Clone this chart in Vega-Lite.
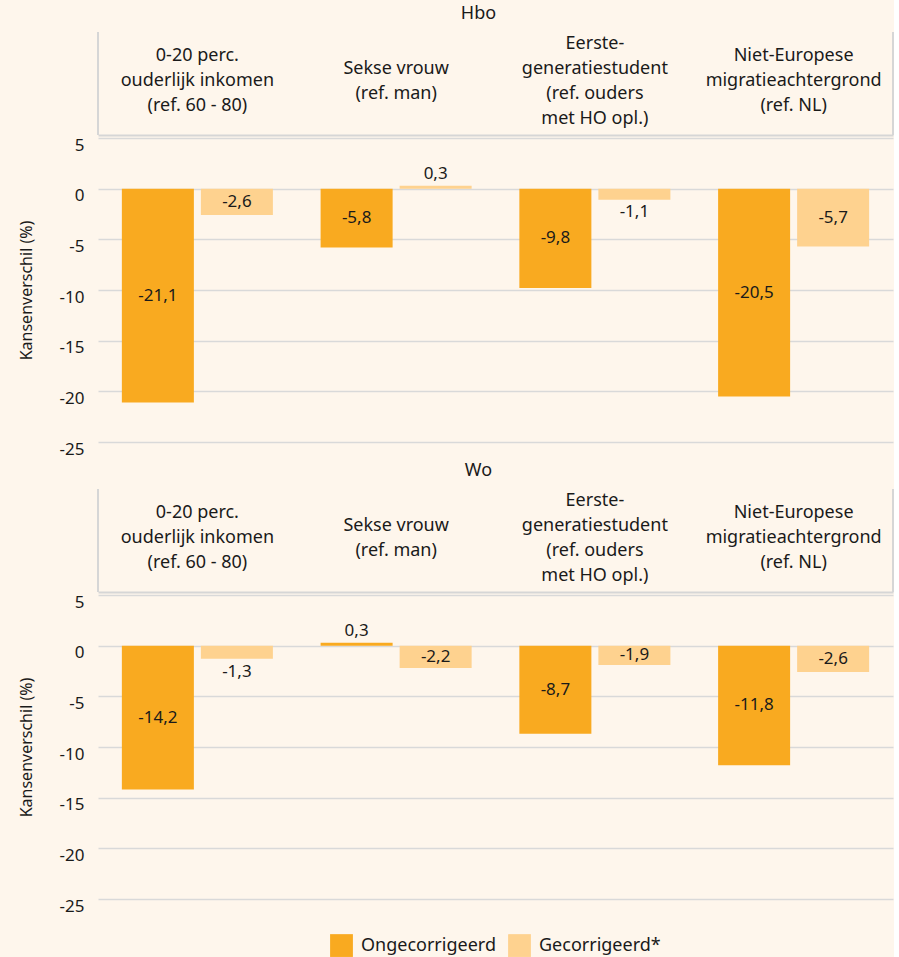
{
  "$schema": "https://vega.github.io/schema/vega-lite/v6.json",
  "background": "#fef6ec",
  "padding": {"left": 18, "top": 5, "right": 0, "bottom": 0},
  "config": {
    "locale": {"number": {"decimal": ",", "thousands": ".", "grouping": [3], "currency": ["€ ", ""], "minus": "-"}},
    "font": "Noto Sans",
    "view": {"stroke": null},
    "concat": {"spacing": 0},
    "text": {"color": "#1a1a1a"},
    "axis": {"labelColor": "#1a1a1a", "titleColor": "#1a1a1a"},
    "legend": {"labelColor": "#1a1a1a", "layout": {"bottom": {"anchor": "middle", "bounds": "full"}}}
  },
  "datasets": {
    "d": [
      {"niveau": "Hbo", "cat": "A", "label": "0-20 perc.|ouderlijk inkomen|(ref. 60 - 80)", "reeks": "Ongecorrigeerd", "v": -21.1},
      {"niveau": "Hbo", "cat": "A", "label": "0-20 perc.|ouderlijk inkomen|(ref. 60 - 80)", "reeks": "Gecorrigeerd*", "v": -2.6},
      {"niveau": "Hbo", "cat": "B", "label": "Sekse vrouw|(ref. man)", "reeks": "Ongecorrigeerd", "v": -5.8},
      {"niveau": "Hbo", "cat": "B", "label": "Sekse vrouw|(ref. man)", "reeks": "Gecorrigeerd*", "v": 0.3},
      {"niveau": "Hbo", "cat": "C", "label": "Eerste-|generatiestudent|(ref. ouders|met HO opl.)", "reeks": "Ongecorrigeerd", "v": -9.8},
      {"niveau": "Hbo", "cat": "C", "label": "Eerste-|generatiestudent|(ref. ouders|met HO opl.)", "reeks": "Gecorrigeerd*", "v": -1.1},
      {"niveau": "Hbo", "cat": "D", "label": "Niet-Europese|migratieachtergrond|(ref. NL)", "reeks": "Ongecorrigeerd", "v": -20.5},
      {"niveau": "Hbo", "cat": "D", "label": "Niet-Europese|migratieachtergrond|(ref. NL)", "reeks": "Gecorrigeerd*", "v": -5.7},
      {"niveau": "Wo", "cat": "A", "label": "0-20 perc.|ouderlijk inkomen|(ref. 60 - 80)", "reeks": "Ongecorrigeerd", "v": -14.2},
      {"niveau": "Wo", "cat": "A", "label": "0-20 perc.|ouderlijk inkomen|(ref. 60 - 80)", "reeks": "Gecorrigeerd*", "v": -1.3},
      {"niveau": "Wo", "cat": "B", "label": "Sekse vrouw|(ref. man)", "reeks": "Ongecorrigeerd", "v": 0.3},
      {"niveau": "Wo", "cat": "B", "label": "Sekse vrouw|(ref. man)", "reeks": "Gecorrigeerd*", "v": -2.2},
      {"niveau": "Wo", "cat": "C", "label": "Eerste-|generatiestudent|(ref. ouders|met HO opl.)", "reeks": "Ongecorrigeerd", "v": -8.7},
      {"niveau": "Wo", "cat": "C", "label": "Eerste-|generatiestudent|(ref. ouders|met HO opl.)", "reeks": "Gecorrigeerd*", "v": -1.9},
      {"niveau": "Wo", "cat": "D", "label": "Niet-Europese|migratieachtergrond|(ref. NL)", "reeks": "Ongecorrigeerd", "v": -11.8},
      {"niveau": "Wo", "cat": "D", "label": "Niet-Europese|migratieachtergrond|(ref. NL)", "reeks": "Gecorrigeerd*", "v": -2.6}
    ]
  },
  "spacing": 5,
  "vconcat": [
    {
      "spacing": 0,
      "vconcat": [
        {
          "title": {"text": "Hbo", "anchor": "middle", "fontSize": 18, "fontWeight": "normal", "color": "#1a1a1a", "offset": 8, "dx": -17},
          "width": 795,
          "height": 103,
          "data": {"name": "d"},
          "transform": [
            {"filter": "datum.niveau === 'Hbo' && datum.reeks === 'Ongecorrigeerd'"},
            {"calculate": "length(split(datum.label, '|'))", "as": "nregels"}
          ],
          "encoding": {
            "x": {"field": "cat", "type": "nominal", "sort": ["A", "B", "C", "D"],
                  "scale": {"paddingInner": 0, "paddingOuter": 0},
                  "axis": {"labels": false, "ticks": false, "domain": true, "domainColor": "#d6d6d6", "domainWidth": 2, "title": null, "orient": "bottom"}}
          },
          "layer": [
            {"mark": {"type": "text", "lineBreak": "|", "fontSize": 18, "lineHeight": 25, "baseline": "middle"},
             "encoding": {
               "text": {"field": "label"},
               "y": {"field": "nregels", "type": "quantitative", "scale": {"domain": [1, 4], "range": [49, 11.5]}, "axis": null}
             }},
            {"transform": [{"filter": "datum.cat === 'A'"}],
             "mark": {"type": "rule", "color": "#d6d6d6", "strokeWidth": 2},
             "encoding": {"x": {"field": "cat", "type": "nominal", "sort": ["A", "B", "C", "D"], "bandPosition": 0}}},
            {"transform": [{"filter": "datum.cat === 'D'"}],
             "mark": {"type": "rule", "color": "#d6d6d6", "strokeWidth": 2},
             "encoding": {"x": {"field": "cat", "type": "nominal", "sort": ["A", "B", "C", "D"], "bandPosition": 1}}}
          ]
        },
        {
          "width": 795,
          "height": 304,
          "data": {"name": "d"},
          "transform": [
            {"filter": "datum.niveau === 'Hbo'"},
            {"calculate": "abs(datum.v) < 1.5 ? (datum.v < 0 ? datum.v - 1.25 : datum.v + 1.1) : datum.v / 2", "as": "lp"}
          ],
          "encoding": {
            "x": {"field": "cat", "type": "nominal", "sort": ["A", "B", "C", "D"], "scale": {"paddingInner": 0, "paddingOuter": 0}, "axis": null},
            "xOffset": {"field": "reeks", "type": "nominal", "sort": ["Ongecorrigeerd", "Gecorrigeerd*"], "scale": {"paddingInner": 0.0886, "paddingOuter": 0.302}}
          },
          "layer": [
            {"mark": {"type": "bar"},
             "encoding": {
               "y": {"field": "v", "type": "quantitative", "scale": {"domain": [-25, 5], "nice": false},
                     "axis": {"values": [-25, -20, -15, -10, -5, 0, 5], "grid": true, "gridColor": "#d9d9d9", "gridWidth": 1.5, "domain": false, "ticks": false,
                              "labelFontSize": 17, "labelBaseline": "top", "labelOffset": -1, "labelPadding": 14,
                              "title": "Kansenverschil (%)", "titleFontSize": 16, "titleFontWeight": "normal", "titlePadding": 25}},
               "color": {"field": "reeks", "type": "nominal", "sort": ["Ongecorrigeerd", "Gecorrigeerd*"],
                         "scale": {"domain": ["Ongecorrigeerd", "Gecorrigeerd*"], "range": ["#f9aa20", "#fed28f"]},
                         "legend": {"title": null, "orient": "bottom", "direction": "horizontal", "labelFontSize": 18, "symbolType": "square", "symbolSize": 520, "symbolStrokeWidth": 0, "symbolOpacity": 1, "columnPadding": 12, "labelOffset": 8, "offset": 20}}
             }},
            {"mark": {"type": "text", "fontSize": 17, "baseline": "middle"},
             "encoding": {
               "y": {"field": "lp", "type": "quantitative"},
               "text": {"field": "v", "type": "quantitative", "format": ".1f"}
             }}
          ]
        }
      ]
    },
    {
      "spacing": 0,
      "vconcat": [
        {
          "title": {"text": "Wo", "anchor": "middle", "fontSize": 18, "fontWeight": "normal", "color": "#1a1a1a", "offset": 8, "dx": -17},
          "width": 795,
          "height": 103,
          "data": {"name": "d"},
          "transform": [
            {"filter": "datum.niveau === 'Wo' && datum.reeks === 'Ongecorrigeerd'"},
            {"calculate": "length(split(datum.label, '|'))", "as": "nregels"}
          ],
          "encoding": {
            "x": {"field": "cat", "type": "nominal", "sort": ["A", "B", "C", "D"],
                  "scale": {"paddingInner": 0, "paddingOuter": 0},
                  "axis": {"labels": false, "ticks": false, "domain": true, "domainColor": "#d6d6d6", "domainWidth": 2, "title": null, "orient": "bottom"}}
          },
          "layer": [
            {"mark": {"type": "text", "lineBreak": "|", "fontSize": 18, "lineHeight": 25, "baseline": "middle"},
             "encoding": {
               "text": {"field": "label"},
               "y": {"field": "nregels", "type": "quantitative", "scale": {"domain": [1, 4], "range": [49, 11.5]}, "axis": null}
             }},
            {"transform": [{"filter": "datum.cat === 'A'"}],
             "mark": {"type": "rule", "color": "#d6d6d6", "strokeWidth": 2},
             "encoding": {"x": {"field": "cat", "type": "nominal", "sort": ["A", "B", "C", "D"], "bandPosition": 0}}},
            {"transform": [{"filter": "datum.cat === 'D'"}],
             "mark": {"type": "rule", "color": "#d6d6d6", "strokeWidth": 2},
             "encoding": {"x": {"field": "cat", "type": "nominal", "sort": ["A", "B", "C", "D"], "bandPosition": 1}}}
          ]
        },
        {
          "width": 795,
          "height": 304,
          "data": {"name": "d"},
          "transform": [
            {"filter": "datum.niveau === 'Wo'"},
            {"calculate": "abs(datum.v) < 1.5 ? (datum.v < 0 ? datum.v - 1.25 : datum.v + 1.1) : datum.v / 2", "as": "lp"}
          ],
          "encoding": {
            "x": {"field": "cat", "type": "nominal", "sort": ["A", "B", "C", "D"], "scale": {"paddingInner": 0, "paddingOuter": 0}, "axis": null},
            "xOffset": {"field": "reeks", "type": "nominal", "sort": ["Ongecorrigeerd", "Gecorrigeerd*"], "scale": {"paddingInner": 0.0886, "paddingOuter": 0.302}}
          },
          "layer": [
            {"mark": {"type": "bar"},
             "encoding": {
               "y": {"field": "v", "type": "quantitative", "scale": {"domain": [-25, 5], "nice": false},
                     "axis": {"values": [-25, -20, -15, -10, -5, 0, 5], "grid": true, "gridColor": "#d9d9d9", "gridWidth": 1.5, "domain": false, "ticks": false,
                              "labelFontSize": 17, "labelBaseline": "top", "labelOffset": -1, "labelPadding": 14,
                              "title": "Kansenverschil (%)", "titleFontSize": 16, "titleFontWeight": "normal", "titlePadding": 25}},
               "color": {"field": "reeks", "type": "nominal", "sort": ["Ongecorrigeerd", "Gecorrigeerd*"],
                         "scale": {"domain": ["Ongecorrigeerd", "Gecorrigeerd*"], "range": ["#f9aa20", "#fed28f"]},
                         "legend": {"title": null, "orient": "bottom", "direction": "horizontal", "labelFontSize": 18, "symbolType": "square", "symbolSize": 520, "symbolStrokeWidth": 0, "symbolOpacity": 1, "columnPadding": 12, "labelOffset": 8, "offset": 20}}
             }},
            {"mark": {"type": "text", "fontSize": 17, "baseline": "middle"},
             "encoding": {
               "y": {"field": "lp", "type": "quantitative"},
               "text": {"field": "v", "type": "quantitative", "format": ".1f"}
             }}
          ]
        }
      ]
    }
  ]
}
